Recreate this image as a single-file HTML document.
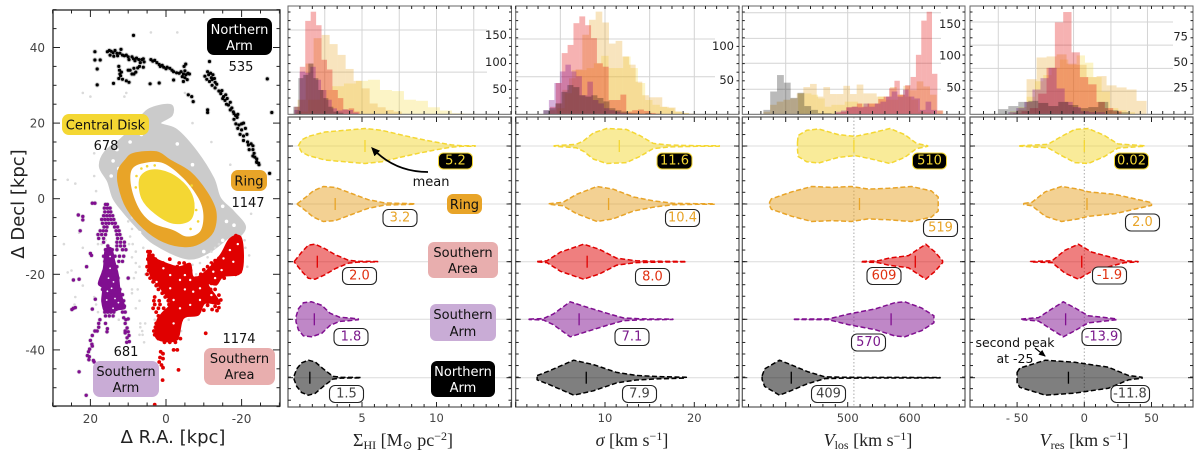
<!DOCTYPE html>
<html lang="en">
<head>
<meta charset="utf-8">
<title>Galaxy region maps and kinematic distributions</title>
<style>
html,body{margin:0;padding:0;background:#fff;width:1200px;height:460px;overflow:hidden}
svg{display:block}
text{font-family:"DejaVu Sans","Liberation Sans",sans-serif}
.serif{font-family:"Liberation Serif","DejaVu Serif",serif;font-size:18px;fill:#222;text-anchor:middle}
.reg{font-size:13px;text-anchor:middle}
.bdg{font-size:13px;text-anchor:middle;dominant-baseline:central}
</style>
</head>
<body>
<svg id="chart" width="1200" height="460" viewBox="0 0 1200 460" xmlns="http://www.w3.org/2000/svg">
<defs>
<clipPath id="mapClip"><rect x="53" y="10" width="227" height="396"/></clipPath>
<marker id="arrowHead" markerWidth="9" markerHeight="8" refX="7" refY="4" orient="auto" markerUnits="userSpaceOnUse"><polygon points="0,0 9,4 0,8" fill="#000"/></marker>
<marker id="arrowSmall" markerWidth="7" markerHeight="6" refX="6" refY="3" orient="auto" markerUnits="userSpaceOnUse"><polygon points="0,0 7,3 0,6" fill="#000"/></marker>
</defs>
<g id="marks"></g>
<g id="annotations">
  <!-- map labels -->
  <g><rect x="207" y="18" width="65" height="37" rx="7" fill="#000"/><text class="reg" x="239.500" y="34" fill="#fff">Northern</text><text class="reg" x="239.500" y="50" fill="#fff">Arm</text></g>
  <text class="reg" x="241" y="71" fill="#111">535</text>
  <g><rect x="62" y="114" width="87" height="21" rx="7" fill="#f4d733"/><text class="reg" x="105.500" y="129.500" fill="#111">Central Disk</text></g>
  <text class="reg" x="106" y="150" fill="#111">678</text>
  <g><rect x="231" y="170" width="36" height="21" rx="7" fill="#e8a428"/><text class="reg" x="249" y="185.500" fill="#111">Ring</text></g>
  <text class="reg" x="248" y="207" fill="#111">1147</text>
  <g><rect x="93" y="361" width="66" height="36" rx="7" fill="#c9acd6"/><text class="reg" x="126" y="376" fill="#111">Southern</text><text class="reg" x="126" y="392" fill="#111">Arm</text></g>
  <text class="reg" x="126" y="356" fill="#111">681</text>
  <g><rect x="204" y="348" width="71" height="37" rx="7" fill="#e8aeae"/><text class="reg" x="239.500" y="363" fill="#111">Southern</text><text class="reg" x="239.500" y="379" fill="#111">Area</text></g>
  <text class="reg" x="239" y="343" fill="#111">1174</text>

  <!-- panel 1 labels -->
  <g><rect x="447" y="194" width="35" height="20" rx="6" fill="#e8a428"/><text class="reg" x="464.500" y="209" fill="#111">Ring</text></g>
  <g><rect x="428" y="242" width="70" height="36" rx="6" fill="#e8aeae"/><text class="reg" x="463" y="257" fill="#111">Southern</text><text class="reg" x="463" y="273" fill="#111">Area</text></g>
  <g><rect x="430" y="304" width="66" height="37" rx="6" fill="#c9acd6"/><text class="reg" x="463" y="319" fill="#111">Southern</text><text class="reg" x="463" y="336" fill="#111">Arm</text></g>
  <g><rect x="431" y="361" width="64" height="36" rx="6" fill="#000"/><text class="reg" x="463" y="376" fill="#fff">Northern</text><text class="reg" x="463" y="392" fill="#fff">Arm</text></g>
  <path d="M428 172 Q395 172 372.500 148.500" fill="none" stroke="#000" stroke-width="1.800" marker-end="url(#arrowHead)"/>
  <text x="431" y="186" font-size="13" text-anchor="middle" fill="#111">mean</text>

  <!-- badges panel 1 -->
  <g><rect x="438.500" y="153" width="34" height="16" rx="5" fill="#000" stroke="#f4d733"/><text class="bdg" x="455.500" y="161" fill="#f4d733">5.2</text></g>
  <g><rect x="383" y="209.500" width="34" height="17" rx="5.500" fill="#fff" stroke="#222" stroke-width="1.100"/><text class="bdg" x="400" y="218" fill="#e8a428">3.2</text></g>
  <g><rect x="342.500" y="267.500" width="34" height="17" rx="5.500" fill="#fff" stroke="#222" stroke-width="1.100"/><text class="bdg" x="359.500" y="276" fill="#e03010">2.0</text></g>
  <g><rect x="334" y="328.500" width="34" height="17" rx="5.500" fill="#fff" stroke="#222" stroke-width="1.100"/><text class="bdg" x="351" y="337" fill="#7b1a8c">1.8</text></g>
  <g><rect x="329.500" y="385.500" width="34" height="17" rx="5.500" fill="#fff" stroke="#222" stroke-width="1.100"/><text class="bdg" x="346.500" y="394" fill="#444">1.5</text></g>

  <!-- badges panel 2 -->
  <g><rect x="657" y="153" width="35" height="16" rx="5" fill="#000" stroke="#f4d733"/><text class="bdg" x="674.500" y="161" fill="#f4d733">11.6</text></g>
  <g><rect x="665.500" y="209.500" width="34" height="17" rx="5.500" fill="#fff" stroke="#222" stroke-width="1.100"/><text class="bdg" x="682.500" y="218" fill="#e8a428">10.4</text></g>
  <g><rect x="635.500" y="268.500" width="34" height="17" rx="5.500" fill="#fff" stroke="#222" stroke-width="1.100"/><text class="bdg" x="652.500" y="277" fill="#e03010">8.0</text></g>
  <g><rect x="615" y="328.500" width="34" height="17" rx="5.500" fill="#fff" stroke="#222" stroke-width="1.100"/><text class="bdg" x="632" y="337" fill="#7b1a8c">7.1</text></g>
  <g><rect x="622.500" y="385.500" width="34" height="17" rx="5.500" fill="#fff" stroke="#222" stroke-width="1.100"/><text class="bdg" x="639.500" y="394" fill="#444">7.9</text></g>

  <!-- badges panel 3 -->
  <g><rect x="912.500" y="153" width="34" height="16" rx="5" fill="#000" stroke="#f4d733"/><text class="bdg" x="929.500" y="161" fill="#f4d733">510</text></g>
  <g><rect x="923.500" y="219.500" width="34" height="17" rx="5.500" fill="#fff" stroke="#222" stroke-width="1.100"/><text class="bdg" x="940.500" y="228" fill="#e8a428">519</text></g>
  <g><rect x="867" y="267.500" width="34" height="17" rx="5.500" fill="#fff" stroke="#222" stroke-width="1.100"/><text class="bdg" x="884" y="276" fill="#e03010">609</text></g>
  <g><rect x="851.500" y="334" width="34" height="17" rx="5.500" fill="#fff" stroke="#222" stroke-width="1.100"/><text class="bdg" x="868.500" y="342.500" fill="#7b1a8c">570</text></g>
  <g><rect x="811.500" y="385.500" width="34" height="17" rx="5.500" fill="#fff" stroke="#222" stroke-width="1.100"/><text class="bdg" x="828.500" y="394" fill="#444">409</text></g>

  <!-- badges panel 4 -->
  <g><rect x="1114.500" y="153" width="34" height="16" rx="5" fill="#000" stroke="#f4d733"/><text class="bdg" x="1131.500" y="161" fill="#f4d733">0.02</text></g>
  <g><rect x="1125.500" y="214" width="34" height="17" rx="5.500" fill="#fff" stroke="#222" stroke-width="1.100"/><text class="bdg" x="1142.500" y="222.500" fill="#e8a428">2.0</text></g>
  <g><rect x="1092.500" y="267" width="34" height="17" rx="5.500" fill="#fff" stroke="#222" stroke-width="1.100"/><text class="bdg" x="1109.500" y="275.500" fill="#e03010">-1.9</text></g>
  <g><rect x="1082" y="328.500" width="39" height="17" rx="5.500" fill="#fff" stroke="#222" stroke-width="1.100"/><text class="bdg" x="1101.500" y="337" fill="#7b1a8c">-13.9</text></g>
  <g><rect x="1111" y="385.500" width="38.500" height="17" rx="5.500" fill="#fff" stroke="#222" stroke-width="1.100"/><text class="bdg" x="1130" y="394" fill="#444">-11.8</text></g>

  <text x="1015" y="347" font-size="12.500" text-anchor="middle" fill="#111">second peak</text>
  <text x="1015" y="363" font-size="12.500" text-anchor="middle" fill="#111">at -25</text>
  <path d="M1035 348 L1045 356" stroke="#000" stroke-width="1.200" fill="none" marker-end="url(#arrowSmall)"/>

  <!-- axis titles -->
  <text x="173" y="443" font-size="18" text-anchor="middle" fill="#222">Δ R.A. [kpc]</text>
  <text x="24" y="204" font-size="18" text-anchor="middle" fill="#222" transform="rotate(-90 24 204)">Δ Decl [kpc]</text>
  <text class="serif" x="403" y="446">Σ<tspan dy="3" font-size="12">HI</tspan><tspan dy="-3"> [M</tspan><tspan dy="3" font-size="12">⊙</tspan><tspan dy="-3"> pc</tspan><tspan dy="-6" font-size="12">−2</tspan><tspan dy="6">]</tspan></text>
  <text class="serif" x="632" y="446"><tspan font-style="italic">σ</tspan> [km s<tspan dy="-6" font-size="12">−1</tspan><tspan dy="6">]</tspan></text>
  <text class="serif" x="868" y="446"><tspan font-style="italic">V</tspan><tspan dy="3" font-size="12">los</tspan><tspan dy="-3"> [km s</tspan><tspan dy="-6" font-size="12">−1</tspan><tspan dy="6">]</tspan></text>
  <text class="serif" x="1084" y="446"><tspan font-style="italic">V</tspan><tspan dy="3" font-size="12">res</tspan><tspan dy="-3"> [km s</tspan><tspan dy="-6" font-size="12">−1</tspan><tspan dy="6">]</tspan></text>
</g>
</svg>
<script>
/* ---------- map data (kpc) ---------- */
const ringOutline=[[8.6,12],[2.5,12.4],[-1.1,10.2],[-6.4,7.1],[-10.8,1.8],[-13.2,-3.4],[-12.5,-8.7],[-9,-11.8],[-5,-12.7],[0.7,-11.4],[6,-7.8],[10.4,-2.55],[12.6,3.6],[12.6,7.6],[10.8,10.2]];
const ringGapOutline=[[9.1,7.6],[6,9.4],[0.7,9.4],[-4.6,5.4],[-8.6,0.1],[-9.9,-4.3],[-9,-8.7],[-5.5,-10],[-1.9,-8.3],[3.4,-6.5],[6.9,-3],[9.1,2.7]];
const diskOutline=[[6.9,5.4],[3.8,7.6],[-1.1,6.7],[-5.5,3.2],[-7.4,-1.2],[-6.4,-5.6],[-1.9,-6.5],[2.9,-3.9],[6.4,0.1]];
const grayOutline=[[4.7,23.5],[-1.1,24.8],[-1.5,22.1],[1.6,19.9],[-2.8,18.2],[-8.1,12.4],[-12.5,5.4],[-14.3,0.1],[-17.8,-3.4],[-20.9,-7.4],[-18.7,-10.5],[-16.9,-10],[-11.6,-14],[-5.5,-15.8],[3.3,-11.8],[7.8,-7.4],[11.3,-3.4],[13.9,0.1],[15.3,4.5],[17.5,8.5],[16.1,12.4],[12.2,15.5],[8.6,19]];
const grayGaps=[[14,10],[13,13],[9.5,15],[6.5,17],[12.5,8],[14.5,6],[5,19.5],[-3,14.5],[-7,9],[-16,-6],[-18,-7],[-15,-11],[7,-9],[10.5,-5.5],[3,-13],[-10,-14],[-15,-2]];
const ringGapSpecks=[[6.5,8],[5,8.6],[3,8.8],[7.8,6],[8,3],[-6.8,3.5],[-8.5,-6],[-6.5,-8],[-8,-3]];
const purpleCoreOutline=[[16.1,-13.6],[14.4,-13.1],[13.5,-16.7],[12.6,-20.2],[12.2,-23.7],[11.3,-27.2],[10.8,-29],[12.6,-29.4],[13.9,-29.9],[16.1,-30.1],[17,-27.2],[16.8,-23.7],[17.9,-22.4],[16.6,-18.4]];
const redCoreOutline=[[4.7,-14.5],[2,-16.2],[-3.3,-18],[-6.4,-17.1],[-7.2,-20.6],[-9.9,-19.7],[-14.3,-14.9],[-16.9,-10.5],[-20,-10.5],[-20,-19.3],[-15.2,-20.6],[-13.4,-22.8],[-11.2,-22.8],[-14.3,-27.7],[-10.3,-27.7],[-8.6,-30.8],[-4.6,-31.7],[-2.8,-37.4],[2.5,-37],[2.5,-32.5],[1.1,-30.3],[-1.1,-27.7],[1.1,-24.2],[4.2,-20.2]];
const redGaps=[[-3.7,-21.5],[-6.4,-21.5],[-9,-23.7],[-1.1,-23.7],[-7.2,-24.6],[-5,-20.2],[-1.1,-20.2],[-12.5,-19.3],[-11.6,-17.5],[-17.8,-16.7],[-15.2,-15.8],[-16.9,-13.6],[-14.7,-18.9],[-3.7,-29],[-6.4,-28.1],[-2,-26.8],[-9,-26.8],[0.7,-18.4],[2.5,-22],[-12,-25.5],[-13,-21],[-19,-12],[-5,-24],[-2,-33]];
const purpleGaps=[[14.8,-18.4],[14.4,-23.7],[15.2,-21],[13.5,-26.4],[15.7,-26.8],[13.9,-22],[14.8,-15.3],[12.6,-27.5],[15.5,-24.5],[14,-29]];
const grayExtra=[[25,-19],[26,-19.5],[24,-26],[24.2,-28],[22,-23],[20,-15],[27,-12],[23,-9],[22,-13],[18,-10],[26,5],[24,4],[19,12],[22,28],[20,27],[11,27],[10.5,28],[-5,28],[4,44],[-3,44],[6.8,-34],[6.2,-36],[7,-36],[6.3,-35],[5.5,-33],[6.8,-33],[5.8,-38],[8,-29],[7,-27],[9,-25],[7.5,-24],[5.5,-20],[7,-18],[8,-17],[9,-15.5],[8,-14],[6,-13],[-1.5,-30],[-4,-35],[-6,-32],[-8,-20],[-5,-17],[-7,-17.5],[-9,-17],[-11,-15.5],[-12,-14],[-13,-13],[-14,-12],[-21,-13],[-22,-15],[-21.5,-18],[-20.8,-11],[3,-32],[18,-12],[17,-12],[16,-11],[12,-12],[11,-13],[9.8,-12],[9.5,-10],[9,-8],[8.8,-12],[10,-6],[9,-5],[19,-26],[18.5,-28],[18,-30],[12.5,-32],[9,-24],[8.5,-21],[8,-19.5],[18.5,2],[19,6],[16,-2],[-22.5,-4],[-20,3],[-17,9],[-12,15],[-7,20]];
const northernArmPoints=[[8.6,43.2],[18.8,38.9],[18.8,36.7],[17.4,36.7],[18.2,34.3],[18.2,30.1],[13.9,30.5],[-11.5,36.3],[-26.8,31.7],[-28,22.8],[-27.4,6.7],[-7.2,25.7],[-11,23.5],[-11,22.8],[-5.9,27.5],[-6.8,27],[4.2,30.4],[1.8,30.6],[-2,31.4],[-4.6,31],
[15.5,38.9],[15,39.2],[14.5,39],[14,38.6],[13.5,39.2],[13,38.5],[14.8,38],[13.8,37.7],[12.8,37.8],[12.2,38.5],[11.9,39.5],[11.5,38],[11,37.8],[10.5,38],[10,37.5],[9.8,36.8],[9,37.5],[8.6,37],[8.2,36.5],[7.8,37.2],[7.2,36.8],[6.8,36],[6.4,36.8],[6,37],[5.8,36.2],[4,36.8],[3.5,36.4],[3,36.6],[2.4,36],[1.8,35.5],[1.5,35],[1,35.3],[0.6,34.8],[0,34.4],[-0.3,34.8],[-1,34.5],[-1.6,34],[-2,33.6],[-2.8,33.3],[-3.5,33.2],[-4,33.6],[-4.6,33],[-5,33.8],[-5.3,32.8],[-5.8,33.2],[-6.2,33],[-4.8,35],[-5.2,35.6],[-4.3,32.3],[-5,32],[-5.6,31.5],
[12.5,35],[12.3,34],[12.2,33],[12,32.5],[12.5,31.8],[11.5,31.6],[11.8,33.5],[10.5,31.2],[9.8,30.8],[9.5,34],[9,33],[8.5,34.5],[8,33.5],[7.5,34.6],[8.5,33],[10,34],[7,35],[6,34.8],
[-10.3,32.4],[-11,33.6],[-11.3,32.8],[-11.8,33.2],[-12,32],[-12.4,32.8],[-10.8,31.6],[-11.5,31],[-12.2,31.5],[-12.8,31.8],[-13,30.8],[-12.2,30],[-13.4,30.3],[-13,29.3],[-14,28.5],[-14.5,27.8],[-14.8,28.6],[-15.2,27],[-15.8,27.5],[-15,26.5],[-15.6,26],[-16.2,26.5],[-16,25],[-16.5,24.8],[-17,25.5],[-17.4,24],[-17,23.5],[-17.8,23],[-18,22.5],[-18.4,22],[-18.8,21.5],[-19,22.3],[-18,21],[-18.5,19.8],[-19.3,19.5],[-20,19.8],[-20.5,20],[-19,18.6],[-20,18.2],[-21,18.6],[-19.6,17],[-20.5,16.6],[-21.4,17],[-20.5,15.4],[-21.6,15],[-21.8,14.2],[-22.5,14.5],[-22,13],[-23,14],[-23,13],[-23.3,12],[-23.5,11],[-23,11.3],[-24,10.5],[-24,9.6],[-24,9.8],[-24.5,9.4],[-24.6,9]];
const southernArmPoints=[[22,-4.7],[23.2,-4.3],[22,-5.6],[18.8,-1.2],[19.5,-1.2],[22.7,-8.5],[24.5,-29],[24,-28.8],[24.9,-29.3],[24.5,-21.5],[23,-21.3],[21,-18],[20,-14.5],[19.7,-15],[18.7,-26.6],[19.5,-29.2],[10,-21],[23,-45.8],[21.1,-52],
[11.2,-31.5],[10.6,-32],[10,-31.8],[10.8,-33],[10.3,-34.2],[10,-35.2],[10.8,-35.5],[9.8,-36.2],[10.3,-36.8],[9.7,-37.8],[10.4,-38],[10.8,-35],
[17.5,-32],[17.8,-33],[16,-33],[17.8,-34],[18.2,-35],[15.5,-34.4],[15.6,-35.2],[18.8,-35],[19.5,-36.2],[20,-37.5],[19.6,-38.5],[19.5,-39],[20.2,-39.8],[20.5,-40.5],[20.8,-41.5],[20.3,-41.8],[20.4,-42.6],[19.2,-42.8],[19,-43.2]];
const southernArmUpperRows=[[-1.5,16,15.5],[-2.5,16.3,15.5,14.8],[-3.5,16.2,15.3,14.6],[-4.5,16.5,15.7,14.9,14.1],[-5.5,17,16.2,15.4,14.6,13.8],[-6.5,16.8,15.9,15.1,14.2,13.4],[-7.5,16.4,15.6,13.6,12.8],[-8.5,17.4,16.6,15.8,13.2,12.4],[-9.5,18,17,16,13,12.2],[-10.5,17.8,16.5,12.8,11.8],[-11.5,16.5,13,12,11],[-12.5,15.4,13,12,11]];
const southernArmRows=[[-13.5,16,15.2,14.2,13,11.5,10.6],[-15.2,16.5,15.5,14.8,13.5,12.3,11.2],[-16.6,16.2,15.3,14.5,12.5,11.5],[-18,16,15.2,14.5,13.8,13],[-19.4,16.5,15.5,14.6,13.9,13.2],[-21,17,16,15,14.2,13.4,12.7],[-22.4,17.5,16.5,15.7,15,14.3,13.5,12.8],[-24,16.8,16,15.2,14.5,13.8,13,12.2],[-25.4,16.3,15.5,14.8,14,13.2,12.4,11.5],[-27,16,15.2,14.4,13.6,12.8,12,11.2],[-28.4,15.6,14.8,14,13.2,11.8,11],[-30,16.2,15.4,14.6,13.8,11.5,10.8],[-31,16,15,14]];
const southernAreaPoints=[[-18.5,-9.8],[-19.5,-10.3],[-17.8,-10.8],[-18.8,-11.2],[-17,-11.6],[-18,-12.2],[-19.3,-12.5],[-16.5,-12.8],[-17.5,-13.5],[-18.6,-13.6],[-15.8,-14],[-16.8,-14.7],[-18,-15],[-19.2,-15],[-15,-15.2],[-16,-15.6],[-17.2,-16],[-18.6,-16.2],[-14,-15.8],[-13,-16.4],[-15,-16.8],[-16.2,-17],[-17.8,-17.4],[-19.2,-17.5],[-12,-17],[-13.8,-17.6],[-15.2,-18],[-16.8,-18.4],[-18,-18.6],[-19.6,-19.3],[-11,-18],[-10,-18.8],[-12.4,-18.8],[-14,-19.2],[-15.6,-19.5],[-17,-19.8],[-18.4,-20],[-9.2,-20],[-10.6,-20],[-12.4,-20.3],[-13.8,-20.8],[-15.4,-21],[-8,-21],[-7,-21.8],[-9.2,-21.8],[-10.6,-22],[-12,-22.4],
[-7.5,-23],[-9,-23.5],[-10.4,-23.5],[-11.8,-24],[-13,-24],[-6.2,-24.5],[-8,-25],[-9.5,-25],[-11,-25.3],[-12.5,-25.5],[-14,-25.5],[-5,-25.8],[-6.8,-26],[-8.5,-26.5],[-10,-26.8],[-11.8,-27],[-13,-27],[-14.5,-26.8],[-4,-27],[-5.5,-27.5],[-7.5,-27.8],[-9,-28],[-11,-28.2],[-13,-28.5],[-14,-28.8],[-12.2,-29.3],[-13.5,-29.6],[-10,-29.5],[-8,-29.3],
[-2,-40],[-3,-40],[1.4,-40.5],[0.8,-41],[1.6,-42],[0.8,-42.3],[1.8,-43.2],[1.2,-44],[0.8,-44.7],[-3.3,-45.3],[0.9,-48],[3,-54.5],[-10.5,-35.6]];
const southernAreaRows=[[-14,4.8,4.2],[-15,4.5,3.5],[-16,4.8,3.8,2.8,-1],[-17,4.4,3,2,0.8,-3.5,-4.8],[-18,5,3.6,2.4,1,-0.4,-3,-5.5],[-19,4.6,3.2,1.8,0.6,-1,-2.2,-3.8,-5.2,-6.5],[-20,5,3.8,2.5,1.2,0,-1.2,-2.5,-4,-5.8],[-21,4.2,3,1.8,0.5,-0.8,-2.2,-3.4,-5],[-22,3.4,2.2,1,-0.3,-1.8,-3,-4.2,-5.8],[-23,2.6,1.2,0,-1.4,-2.6,-4,-5.4],[-24,2,0.8,-0.6,-1.8,-3.2,-4.6],[-25,1,-0.2,-1.6,-2.8,-4],[-26,3,0.2,-1,-2.4,-3.6],[-27,3.2,1.8,-0.6,-2,-3],[-28,3,1.6,-0.8,-2.2,-3.4,-4.6],[-29,3.4,2,0.6,-1.2,-2.6,-4,-5.4],[-30,2.6,0.2,-1,-2.2,-3.2],[-31,2,0.6,-0.8,-2.4],[-32,1.4,0,-1.4,-2.8,-4],[-33,2.6,1.4,0,-1.2,-2.4,-3.6],[-34,2.8,1.5,0.4,-0.8,-2,-3.2],[-35,3.2,2,0.8,-0.4,-1.6,-2.8],[-36,3,1.8,0.6,-0.6,-1.8,-3],[-37,2,0.8,-0.4,-1.6,-2.8,-3.8],[-38,0.4,-1,-2.5]];
const mapXTicks=[20,0,-20];
const mapYTicks=[40,20,0,-20,-40];

/* ---------- regions ---------- */
const regionNames=['central-disk','ring','southern-area','southern-arm','northern-arm'];
const regionColors=['#f4d733','#e8a428','#e00000','#800f90','#000000'];

/* ---------- surface density ---------- */
const surfaceMeans=[5.2,3.2,2.0,1.8,1.5];
const surfaceDiskProfile=[[0.73,0.02],[0.95,0.35],[1.4,0.55],[2.52,0.8],[3.86,0.9],[5.2,1],[6.32,0.9],[7.66,0.63],[8.78,0.42],[9.9,0.23],[11,0.06],[11.7,0.02],[12.6,0.01]];
const surfaceRingProfile=[[0.66,0.02],[1.17,0.35],[1.73,0.75],[2.4,1],[3.2,0.95],[4.3,0.6],[5.4,0.25],[6.5,0.06],[8.56,0.01]];
const surfaceAreaProfile=[[0.46,0.02],[0.95,0.55],[1.4,0.95],[1.85,1],[2.5,0.75],[3.2,0.4],[4.1,0.08],[4.75,0.02],[6.05,0.01]];
const surfaceSArmProfile=[[0.57,0.15],[0.73,0.6],[1.07,0.95],[1.62,1],[2.3,0.8],[2.85,0.35],[3.5,0.12],[4.1,0.08],[4.75,0.02]];
const surfaceNArmProfile=[[0.44,0.1],[0.62,0.5],[0.95,0.85],[1.4,1],[1.85,0.9],[2.4,0.5],[3.05,0.08],[3.6,0.02],[4.93,0.01]];
const surfaceHistDisk=[5,27,45,52,57,62,64,45,43,27,25,13,7,2,1];
const surfaceHistRing=[27,94,141,147,130,110,84,62,48,20,13,8,5];
const surfaceHistArea=[14,88,173,190,165,101,83,45,30,9,11,5];
const surfaceHistSArm=[8,79,77,88,64,45,27,11,7,9,8,3];
const surfaceHistNArm=[14,67,73,94,67,45,30,14,5,3];
const surfaceHistStart=[0.57,0.68,0.46,0.46,0.39];
const surfaceHistWidth=[0.805,0.537,0.365,0.358,0.336];
const surfaceXTicks=[5,10];
const surfaceHistTicks=[50,100,150];
const surfaceHistGridY=[78,156];
const surfaceHistGridX=[2.5,5,7.5,10,12.5];

/* ---------- velocity dispersion ---------- */
const sigmaMeans=[11.6,10.4,8.0,7.1,7.9];
const sigmaDiskProfile=[[4.3,0.01],[6.8,0.1],[7.6,0.3],[8.7,0.75],[10.2,1],[12.4,0.95],[13.9,0.6],[15.4,0.15],[17.3,0.05],[20.3,0.02],[22.8,0.01]];
const sigmaRingProfile=[[3.7,0.01],[5.3,0.1],[6.8,0.55],[9.1,1],[10.9,0.85],[13.2,0.4],[15.4,0.18],[17.6,0.04],[20.3,0.02],[22.3,0.01]];
const sigmaAreaProfile=[[2.4,0.01],[3.5,0.05],[5,0.55],[7.6,1],[9.4,0.7],[11.3,0.2],[13.5,0.05],[16.2,0.02],[19.1,0.01]];
const sigmaSArmProfile=[[1.5,0.01],[3.1,0.04],[4.2,0.3],[6.1,1],[7.95,0.7],[10.2,0.35],[12.05,0.08],[14.3,0.02],[17.6,0.01]];
const sigmaNArmProfile=[[2.4,0.12],[3.8,0.4],[6.5,1],[8.7,0.75],[11.3,0.3],[13.5,0.13],[15.8,0.07],[19.1,0.02]];
const sigmaHistDisk=[1,9,31,65,65,68,75,86,68,68,85,68,46,21,14,11,9,4,2];
const sigmaHistRing=[6,16,36,53,66,117,139,151,135,104,108,85,73,48,28,25,25,11,10,4,2,1];
const sigmaHistArea=[11,46,90,102,134,144,131,112,75,70,21,21,29,4,6,7,5,2,1];
const sigmaHistSArm=[6,21,46,63,73,63,56,28,48,21,16,9,6,4,2,1];
const sigmaHistNArm=[6,9,16,33,43,40,28,26,28,24,19,9,6,4,2,2,1,2];
const sigmaHistStart=[3.84,3.73,3.84,3.1,3.1];
const sigmaHistWidth=[0.82,0.746,0.657,0.616,0.672];
const sigmaXTicks=[10,20];
const sigmaHistTicks=[50,100];
const sigmaHistGridY=[55.3,110.7];
const sigmaHistGridX=[5,10,15,20];

/* ---------- line of sight velocity ---------- */
const vlosMeans=[510,519,609,570,409];
const vlosDiskProfile=[[419,0.2],[420,0.6],[434,0.9],[453,0.97],[485,0.65],[512,0.55],[539,0.75],[568,1],[592,0.65],[611,0.15],[629,0.02]];
const vlosRingProfile=[[374,0.1],[377,0.3],[410,0.7],[442,1],[474,0.95],[506,1],[533,0.85],[566,0.9],[603,1],[635,0.75],[646,0.4],[646,0.1]];
const vlosAreaProfile=[[523,0.01],[549,0.05],[566,0.2],[598,0.35],[611,0.65],[626,1],[641,0.55],[653,0.05]];
const vlosSArmProfile=[[414,0.01],[469,0.02],[501,0.3],[545,0.6],[576,0.95],[592,1],[619,0.65],[639,0.2],[639,0.05]];
const vlosNArmProfile=[[362,0.1],[366,0.5],[390,1],[408,0.75],[435,0.35],[463,0.05],[496,0.02],[649,0.01]];
const vlosHistDisk=[33,33,31,25,12,15,15,20,20,17,17,17,28,23,23,31,28,23,4,3];
const vlosHistRing=[4,15,20,23,25,33,43,48,28,43,32,32,45,32,47,33,33,28,28,43,31,45,38,52,44,31,6];
const vlosHistArea=[2,4,11,12,17,12,17,17,24,28,41,53,31,46,59,94,148,162,64,6];
const vlosHistSArm=[4,6,11,12,11,17,12,17,20,28,36,28,39,28,25,7,20,7];
const vlosHistNArm=[7,36,62,50,26,34,13,7,2,2,1];
const vlosHistStart=[420,364,480.1,480,364];
const vlosHistWidth=[10.75,10.75,8.66,9.1,11];
const vlosXTicks=[500,600];
const vlosHistTicks=[50,100,150];
const vlosHistGridY=[39.5,80.6,120,160.5];
const vlosHistGridX=[400,500,600];
const vlosReference=[510];

/* ---------- residual velocity ---------- */
const vresMeans=[0.02,2.0,-1.9,-13.9,-11.8];
const vresDiskProfile=[[-48,0.01],[-27,0.1],[-17,0.55],[-7,0.95],[3,1],[15,0.6],[25,0.12],[45,0.01]];
const vresRingProfile=[[-45,0.03],[-39,0.1],[-29,0.7],[-17,1],[-4.5,0.85],[3,0.7],[23,0.55],[40,0.25],[50,0.08]];
const vresAreaProfile=[[-40,0.01],[-24,0.05],[-14.4,0.65],[-4.5,1],[5.5,0.55],[20,0.25],[30,0.05],[40,0.01]];
const vresSArmProfile=[[-47,0.01],[-34,0.1],[-24,0.6],[-15.6,1],[-7,0.65],[3,0.2],[13,0.12],[24,0.02]];
const vresNArmProfile=[[-50,0.3],[-48,0.55],[-29,1],[-7,0.88],[18,0.6],[33,0.12],[43,0.03]];
const vresHistDisk=[3,7,17,32,38,45,53,48,57,50,36,22,6,4,2];
const vresHistRing=[4,34,55,56,58,49,48,36,37,28,26,24,13];
const vresHistArea=[1,3,6,20,45,89,99,60,36,29,12,6,3];
const vresHistSArm=[2,6,12,24,35,45,25,12,7,3,2,2];
const vresHistNArm=[5,8,12,13,11,8,12,9,6,7,12,4,2];
const vresHistStart=[-55.3,-50.4,-52.9,-56.6,-64];
const vresHistWidth=[6.2,7.44,6.2,6,7.44];
const vresXTicks=[-50,0,50];
const vresHistTicks=[25,50,75];
const vresHistGridY=[22.3,44.5,67,89.4];
const vresHistGridX=[-64,-36.3,-8,19.8,47];
const vresReference=[0];

/* ---------- drawing ---------- */
const NS='http://www.w3.org/2000/svg';
const root=document.getElementById('marks');
function mk(tag,attrs,parent,text){
  const el=document.createElementNS(NS,tag);
  for(const k in attrs) el.setAttribute(k,attrs[k]);
  if(text!==undefined) el.textContent=text;
  (parent||root).appendChild(el);
  return el;
}
function group(name,parent){
  const g=mk('g',{},parent);
  
  
  return g;
}
const xRA=ra=>166-3.78*ra;
const yDec=d=>198.7-3.78*d;

/* map panel */
const mapPanel=group('sky-map-panel');
const mapFrameBg=mk('rect',{x:53,y:10,width:227,height:396,fill:'#fff'},mapPanel);


const mapBody=group('sky-map-points',mapPanel);
mapBody.setAttribute('clip-path','url(#mapClip)');
function smoothClosed(list){
  const q=list.map(p=>[xRA(p[0]),yDec(p[1])]);
  const n=q.length;
  let d='M'+q[0][0].toFixed(1)+' '+q[0][1].toFixed(1);
  for(let i=0;i<n;i++){
    const a=q[(i-1+n)%n],b=q[i],c=q[(i+1)%n],e=q[(i+2)%n];
    const c1=[b[0]+(c[0]-a[0])/6,b[1]+(c[1]-a[1])/6];
    const c2=[c[0]-(e[0]-b[0])/6,c[1]-(e[1]-b[1])/6];
    d+='C'+c1[0].toFixed(1)+' '+c1[1].toFixed(1)+' '+c2[0].toFixed(1)+' '+c2[1].toFixed(1)+' '+c[0].toFixed(1)+' '+c[1].toFixed(1);
  }
  return d+'Z';
}
function blob(list,fill,name,sw){
  const s=mk('path',{d:smoothClosed(list),fill:fill,stroke:fill,'stroke-width':sw,'stroke-linejoin':'round'},mapBody);
  
  
}
function dots(list,fill,r,name,parent){
  list.forEach(p=>{
    const c=mk('circle',{cx:xRA(p[0]).toFixed(1),cy:yDec(p[1]).toFixed(1),r:r,fill:fill},parent);
    
    
  });
}
const unrow=rows=>{const out=[];rows.forEach(r=>{for(let i=1;i<r.length;i++) out.push([r[i],r[0]]);});return out;};
const sArmAll=southernArmPoints.concat(unrow(southernArmUpperRows),unrow(southernArmRows));
const sAreaAll=southernAreaPoints.concat(unrow(southernAreaRows));
blob(grayOutline,'#cbcbcb','all-pixels-region',2);
dots(grayGaps,'#ffffff',1.8,'gray-gap',mapBody);
dots(grayExtra,'#dadada',1.3,'gray-point',mapBody);
dots(northernArmPoints,'#d0d0d0',2.6,'northern-arm-halo',mapBody);
dots(sArmAll,'#e0e0e0',2.4,'southern-arm-halo',mapBody);
blob(ringOutline,'#e8a428','ring-region',1);
blob(ringGapOutline,'#ffffff','ring-gap',0);
blob(diskOutline,'#f4d733','central-disk-region',1);
dots(ringGapSpecks,'#f4d733',1.3,'ring-gap-speck',mapBody);
dots(northernArmPoints,'#000000',1.6,'northern-arm-point',mapBody);
blob(purpleCoreOutline,'#800f90','southern-arm-core',1);
dots(sArmAll,'#800f90',1.7,'southern-arm-point',mapBody);
dots(purpleGaps,'#ffffff',0.9,'southern-arm-gap',mapBody);
blob(redCoreOutline,'#e00000','southern-area-core',1);
dots(sAreaAll,'#e00000',1.9,'southern-area-point',mapBody);
dots(redGaps,'#ffffff',1.2,'southern-area-gap',mapBody);
const mapFrame=mk('rect',{x:53,y:10,width:227,height:396,fill:'none',stroke:'#444','stroke-width':1.5},mapPanel);


function tk(x1,y1,x2,y2,parent,name){
  const l=mk('line',{x1:x1,y1:y1,x2:x2,y2:y2,stroke:'#222','stroke-width':1},parent);
  
  
}
for(let v=-30;v<=30;v+=5){
  const len=(v%20===0)?7:3.5;
  tk(xRA(v),406,xRA(v),406-len,mapPanel,'map-x-tick');
  tk(xRA(v),10,xRA(v),10+len,mapPanel,'map-x-tick-top');
}
for(let v=-55;v<=50;v+=5){
  const len=(v%20===0)?7:3.5;
  tk(53,yDec(v),53+len,yDec(v),mapPanel,'map-y-tick');
  tk(280,yDec(v),280-len,yDec(v),mapPanel,'map-y-tick-right');
}
mapXTicks.forEach(v=>{
  const t=mk('text',{x:xRA(v),y:423,'font-size':12,'text-anchor':'middle',fill:'#444'},mapPanel,String(v));
  
  
});
mapYTicks.forEach(v=>{
  const t=mk('text',{x:45,y:yDec(v)+4.500,'font-size':12,'text-anchor':'end',fill:'#444'},mapPanel,String(v));
  
  
});

/* violin + histogram panels */
const rowY=[146,204,261.7,319.3,377.7];
const histBase=114.3;
const panels=[
 {key:'surface',left:288,right:511.5,x:v=>287.5+14.9*v,yScale:0.54,labelBase:116,labelRate:0.54,gridEnd:487,labelX:507,
  means:surfaceMeans,profiles:[surfaceDiskProfile,surfaceRingProfile,surfaceAreaProfile,surfaceSArmProfile,surfaceNArmProfile],
  hists:[surfaceHistDisk,surfaceHistRing,surfaceHistArea,surfaceHistSArm,surfaceHistNArm],starts:surfaceHistStart,widths:surfaceHistWidth,
  xTicks:surfaceXTicks,histTicks:surfaceHistTicks,gridY:surfaceHistGridY,gridX:surfaceHistGridX,tickStep:5/6,tickFrom:0,major:5,ref:[]},
 {key:'sigma',left:515.7,right:739,x:v=>515.7+8.93*v,yScale:0.68,labelBase:114,labelRate:0.68,gridEnd:715,labelX:734,
  means:sigmaMeans,profiles:[sigmaDiskProfile,sigmaRingProfile,sigmaAreaProfile,sigmaSArmProfile,sigmaNArmProfile],
  hists:[sigmaHistDisk,sigmaHistRing,sigmaHistArea,sigmaHistSArm,sigmaHistNArm],starts:sigmaHistStart,widths:sigmaHistWidth,
  xTicks:sigmaXTicks,histTicks:sigmaHistTicks,gridY:sigmaHistGridY,gridX:sigmaHistGridX,tickStep:1.25,tickFrom:0,major:10,ref:[]},
 {key:'vlos',left:742.3,right:965,x:v=>847.7+0.62*(v-500),yScale:0.633,labelBase:119,labelRate:0.633,gridEnd:941,labelX:961,
  means:vlosMeans,profiles:[vlosDiskProfile,vlosRingProfile,vlosAreaProfile,vlosSArmProfile,vlosNArmProfile],
  hists:[vlosHistDisk,vlosHistRing,vlosHistArea,vlosHistSArm,vlosHistNArm],starts:vlosHistStart,widths:vlosHistWidth,
  xTicks:vlosXTicks,histTicks:vlosHistTicks,gridY:vlosHistGridY,gridX:vlosHistGridX,tickStep:20,tickFrom:340,major:100,ref:vlosReference},
 {key:'vres',left:970,right:1193,x:v=>1084.3+1.344*v,yScale:1.033,labelBase:113,labelRate:1.02,gridEnd:1173,labelX:1188,
  means:vresMeans,profiles:[vresDiskProfile,vresRingProfile,vresAreaProfile,vresSArmProfile,vresNArmProfile],
  hists:[vresHistDisk,vresHistRing,vresHistArea,vresHistSArm,vresHistNArm],starts:vresHistStart,widths:vresHistWidth,
  xTicks:vresXTicks,histTicks:vresHistTicks,gridY:vresHistGridY,gridX:vresHistGridX,tickStep:25/3,tickFrom:-75,major:50,ref:vresReference}
];
const histAlpha=[0.28,0.3,0.3,0.33,0.27];
panels.forEach(p=>{
  const g=group(p.key+'-panel');
  const w=p.right-p.left;
  /* histogram panel */
  const h=group(p.key+'-histogram-panel',g);
  p.gridX.forEach(v=>{
    const l=mk('line',{x1:p.x(v),x2:p.x(v),y1:6,y2:histBase,stroke:'#d4d4d4','stroke-width':1},h);
    
    
  });
  p.gridY.forEach(v=>{
    const yy=histBase-v*p.yScale;
    const l=mk('line',{x1:p.left,x2:p.gridEnd,y1:yy,y2:yy,stroke:'#d4d4d4','stroke-width':1},h);
    
    
  });
  p.hists.forEach((counts,i)=>{
    counts.forEach((c,j)=>{
      const x0=p.x(p.starts[i]+j*p.widths[i]);
      const x1=p.x(p.starts[i]+(j+1)*p.widths[i]);
      const ht=c*p.yScale;
      const b=mk('rect',{x:x0.toFixed(2),y:(histBase-ht).toFixed(2),width:(x1-x0).toFixed(2),height:ht.toFixed(2),fill:regionColors[i],'fill-opacity':histAlpha[i]},h);
      
      
    });
  });
  const hf=mk('rect',{x:p.left,y:6,width:w,height:histBase-6,fill:'none',stroke:'#666','stroke-width':1},h);
  
  
  p.histTicks.forEach(v=>{
    const t=mk('text',{x:p.labelX,y:p.labelBase-v*p.labelRate+4,'font-size':11.5,'text-anchor':'end',fill:'#222'},h,String(v));
    
    
  });
  /* violin panel */
  const vp=group(p.key+'-violin-panel',g);
  rowY.forEach(yy=>{
    const l=mk('line',{x1:p.left,x2:p.right,y1:yy,y2:yy,stroke:'#dcdcdc','stroke-width':1},vp);
    
    
  });
  p.ref.forEach(v=>{
    const l=mk('line',{x1:p.x(v),x2:p.x(v),y1:117,y2:407,stroke:'#aaa','stroke-width':1,'stroke-dasharray':'1.500 2'},vp);
    
    
  });
  p.profiles.forEach((prof,i)=>{
    const cy=rowY[i];
    const top=prof.map(q=>p.x(q[0]).toFixed(1)+','+(cy-q[1]*17.5).toFixed(1));
    const bot=prof.slice().reverse().map(q=>p.x(q[0]).toFixed(1)+','+(cy+q[1]*17.5).toFixed(1));
    const v=mk('polygon',{points:top.concat(bot).join(' '),fill:regionColors[i],'fill-opacity':0.5,stroke:regionColors[i],'stroke-width':1.5,'stroke-dasharray':'5 2.500','stroke-linejoin':'round'},vp);
    
    
    const mx=p.x(p.means[i]);
    const m=mk('line',{x1:mx,x2:mx,y1:cy-6,y2:cy+6,stroke:regionColors[i],'stroke-width':1.3},vp);
    
    
  });
  const vf=mk('rect',{x:p.left,y:117,width:w,height:290,fill:'none',stroke:'#555','stroke-width':1.2},vp);
  
  
  /* frame ticks */
  for(let v=p.tickFrom;p.x(v)<=p.right;v+=p.tickStep){
    const px=p.x(v);
    if(px<p.left) continue;
    const isMajor=Math.abs(v/p.major-Math.round(v/p.major))<1e-6;
    const len=isMajor?5:3;
    tk(px,407,px,407-len,vp,'x-tick');
    tk(px,117,px,117+len,vp,'x-tick-top');
    tk(px,114,px,114-3,h,'hist-x-tick');
    tk(px,6,px,6+3,h,'hist-x-tick-top');
  }
  for(let yy=117+6;yy<407;yy+=11.55){
    tk(p.left,yy,p.left+3,yy,vp,'y-tick');
    tk(p.right,yy,p.right-3,yy,vp,'y-tick-right');
  }
  for(let yy=12;yy<114;yy+=8.6){
    tk(p.left,yy,p.left+2.5,yy,h,'hist-y-tick');
    tk(p.right,yy,p.right-2.5,yy,h,'hist-y-tick-right');
  }
  rowY.forEach(yy=>{
    tk(p.left,yy,p.left+5,yy,vp,'row-tick');
    tk(p.right,yy,p.right-5,yy,vp,'row-tick-right');
  });
  p.xTicks.forEach(v=>{
    const label=v<0?('- '+Math.abs(v)):String(v);
    const t=mk('text',{x:p.x(v),y:422,'font-size':11.5,'text-anchor':'middle',fill:'#444'},vp,label);
    
    
  });
});
</script>
</body>
</html>
